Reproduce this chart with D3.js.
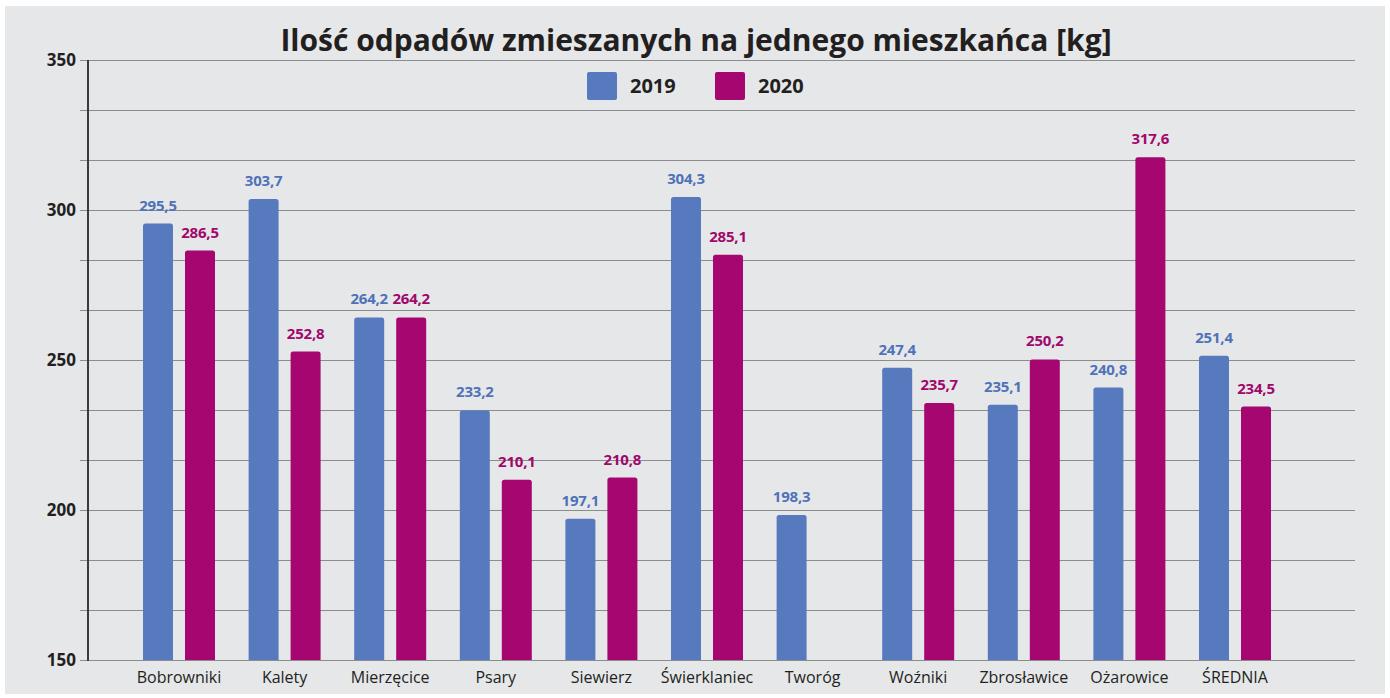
<!DOCTYPE html>
<html>
<head>
<meta charset="utf-8">
<script src="https://cdn.jsdelivr.net/npm/d3@7"></script>
<style>
  body { margin: 0; background: #fff; }
  svg { display: block; }
</style>
</head>
<body>
<svg id="chart"></svg>
<script>
const categories = ["Bobrowniki", "Kalety", "Mierzęcice", "Psary", "Siewierz", "Świerklaniec", "Tworóg", "Woźniki", "Zbrosławice", "Ożarowice", "ŚREDNIA"];
const years = ["2019", "2020"];
const values2019 = [295.5, 303.7, 264.2, 233.2, 197.1, 304.3, 198.3, 247.4, 235.1, 240.8, 251.4];
const values2020 = [286.5, 252.8, 264.2, 210.1, 210.8, 285.1, null, 235.7, 250.2, 317.6, 234.5];
const yTicks = [150, 200, 250, 300, 350];

const config = {
    width: 1390,
    height: 698,
    colors: ["#5779be", "#a5066f"],
    labelColors: ["#4f72b8", "#a0086c"]
};

const svg = d3.select("#chart")
    .attr("width", config.width)
    .attr("height", config.height);

svg.append("rect")
    .attr("x", 5).attr("y", 6)
    .attr("width", 1380).attr("height", 688)
    .attr("fill", "#e6e7e9");

const y = d3.scaleLinear().domain([150, 350]).range([660, 60]);
const x = d3.scaleBand().domain(categories).range([126.2, 1287.8]);
const xs = d3.scaleBand().domain(years).range([-36, 36]).paddingInner(12 / 42);

// gridlines every 1/3 of the 50 step
const grid = d3.range(150, 350.01, 50 / 3);
svg.append("g").selectAll("line")
    .data(grid)
    .join("line")
    .attr("x1", 80).attr("x2", 1355)
    .attr("y1", d => Math.round(y(d)) + 0.5)
    .attr("y2", d => Math.round(y(d)) + 0.5)
    .attr("stroke", "#8c8c8c")
    .attr("stroke-width", 1.2);

// y axis
const yAxis = svg.append("g")
    .attr("transform", "translate(88,0)")
    .call(d3.axisLeft(y).tickValues(yTicks).tickSize(0).tickPadding(12));
yAxis.select(".domain").remove();
yAxis.selectAll("text")
    .attr("font-family", "'Open Sans', sans-serif")
    .attr("font-weight", "bold")
    .attr("font-size", "17px")
    .attr("fill", "#231f20");
svg.append("line")
    .attr("x1", 88).attr("x2", 88)
    .attr("y1", 60).attr("y2", 661)
    .attr("stroke", "#3a3a3a")
    .attr("stroke-width", 2);

const series = years.map((yr, i) => ({
    year: yr,
    values: i === 0 ? values2019 : values2020
}));

const groups = svg.append("g").selectAll("g")
    .data(series)
    .join("g");

groups.each(function (s, si) {
    const g = d3.select(this);
    const data = categories.map((c, i) => ({ cat: c, v: s.values[i] })).filter(d => d.v !== null);
    g.selectAll("path")
        .data(data)
        .join("path")
        .attr("d", d => {
            const x0 = x(d.cat) + x.bandwidth() / 2 + xs(s.year);
            const w = xs.bandwidth();
            const top = y(d.v), bot = y(150), r = 2.5;
            return `M${x0},${bot}V${top + r}Q${x0},${top} ${x0 + r},${top}H${x0 + w - r}Q${x0 + w},${top} ${x0 + w},${top + r}V${bot}Z`;
        })
        .attr("fill", config.colors[si]);
    g.selectAll("text")
        .data(data)
        .join("text")
        .attr("x", d => x(d.cat) + x.bandwidth() / 2 + xs(s.year) + xs.bandwidth() / 2)
        .attr("y", d => y(d.v) - 13)
        .attr("text-anchor", "middle")
        .attr("font-family", "'Open Sans', sans-serif")
        .attr("font-weight", "bold")
        .attr("font-size", "15px")
        .attr("letter-spacing", "-0.2px")
        .attr("fill", config.labelColors[si])
        .text(d => d3.format(".1f")(d.v).replace(".", ","));
});

// x labels
svg.append("g").selectAll("text")
    .data(categories)
    .join("text")
    .attr("x", d => x(d) + x.bandwidth() / 2)
    .attr("y", 683)
    .attr("text-anchor", "middle")
    .attr("font-family", "'Open Sans', sans-serif")
    .attr("font-size", "16px")
    .attr("fill", "#231f20")
    .text(d => d);

// title
svg.append("text")
    .attr("x", 696)
    .attr("y", 51)
    .attr("text-anchor", "middle")
    .attr("font-family", "'Open Sans', sans-serif")
    .attr("font-weight", "bold")
    .attr("font-size", "30px")
    .attr("fill", "#231f20")
    .text("Ilość odpadów zmieszanych na jednego mieszkańca [kg]");

// legend
const legend = svg.append("g").selectAll("g")
    .data(years)
    .join("g")
    .attr("transform", (d, i) => `translate(${587 + i * 128},72)`);
legend.append("rect")
    .attr("width", 30).attr("height", 28).attr("rx", 2)
    .attr("fill", (d, i) => config.colors[i]);
legend.append("text")
    .attr("x", 43).attr("y", 21)
    .attr("font-family", "'Open Sans', sans-serif")
    .attr("font-weight", "bold")
    .attr("font-size", "20px")
    .attr("fill", "#231f20")
    .text(d => d);
</script>
</body>
</html>
